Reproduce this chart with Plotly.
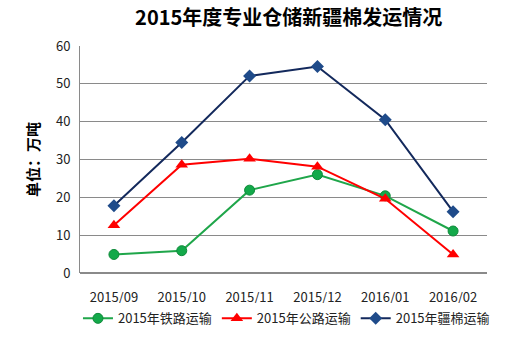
import plotly.graph_objects as go

months = ["2015/09", "2015/10", "2015/11", "2015/12", "2016/01", "2016/02"]
rail = [4.9, 5.9, 21.9, 26.0, 20.4, 11.1]
road = [12.6, 28.6, 30.2, 28.1, 19.6, 4.9]
xinjiang = [17.8, 34.5, 52.1, 54.6, 40.5, 16.2]

names = ["2015年铁路运输", "2015年公路运输", "2015年疆棉运输"]

fig = go.Figure()
fig.add_trace(go.Scatter(x=months, y=rail, name=names[0], mode="lines+markers",
                         line=dict(color="#1fa64a", width=2),
                         marker=dict(symbol="circle", size=10, color="#13a94a",
                                     line=dict(color="#0f8a3a", width=1))))
fig.add_trace(go.Scatter(x=months, y=road, name=names[1], mode="lines+markers",
                         line=dict(color="#ff0000", width=2),
                         marker=dict(symbol="triangle-up", size=11, color="#ff0000")))
fig.add_trace(go.Scatter(x=months, y=xinjiang, name=names[2], mode="lines+markers",
                         line=dict(color="#13295c", width=2),
                         marker=dict(symbol="diamond", size=10, color="#1f4b8a")))

fig.update_layout(
    width=511, height=345,
    margin=dict(l=80, r=24, t=46, b=66),
    paper_bgcolor="white", plot_bgcolor="white",
    title=dict(text="<b>2015年度专业仓储新疆棉发运情况</b>", x=0.565, xanchor="center",
               y=0.948, yanchor="middle",
               font=dict(family="Noto Sans CJK SC", size=20, color="black")),
    font=dict(family="Noto Sans CJK SC", size=13, color="#222"),
    xaxis=dict(type="category", showgrid=False, showline=False, ticks="",
               tickfont=dict(size=13, color="#222"), range=[-0.5, 5.5],
               ticklabelstandoff=15, automargin=False),
    yaxis=dict(range=[0, 60], dtick=10, showgrid=True, gridcolor="#8a8a8a", gridwidth=1,
               showline=True, linecolor="#8a8a8a", linewidth=1, zeroline=True,
               zerolinecolor="#8a8a8a", ticks="", tickfont=dict(size=13, color="#222"),
               ticklabelstandoff=6, automargin=False,
               title=dict(text="<b>单位：万吨</b>", font=dict(size=15, color="black"), standoff=12)),
    legend=dict(orientation="h", x=-0.005, xanchor="left", y=-0.2, yanchor="middle",
                font=dict(size=13, color="#222"), tracegroupgap=0),
    showlegend=True,
)

fig.write_html("out.html")
